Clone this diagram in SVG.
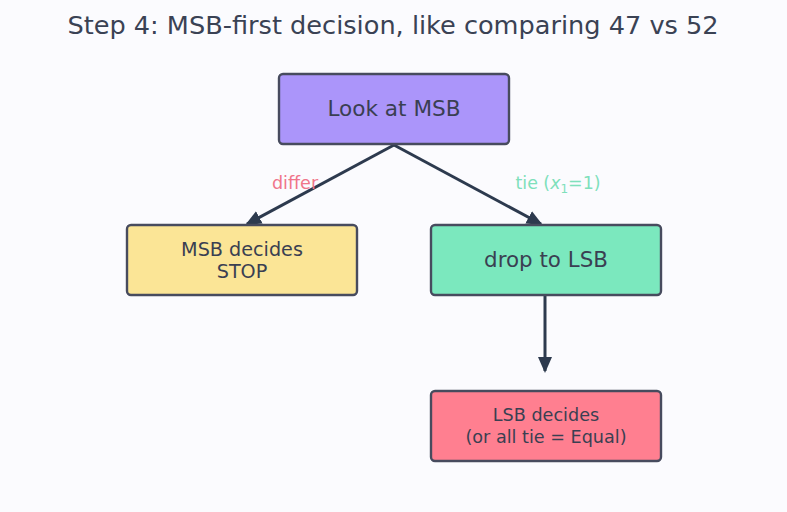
<svg xmlns="http://www.w3.org/2000/svg" width="787" height="512" viewBox="0 0 787 512">
<style>
text{font-family:"DejaVu Sans",sans-serif;text-anchor:middle;fill:#3a3f52}
.box{stroke:#474b5e;stroke-width:2.4}
.edge{stroke:#2d3a4e;stroke-width:3;fill:none}
</style>
<defs>
<marker id="ah2" viewBox="0 0 16 14" refX="14" refY="7" markerWidth="16" markerHeight="14" orient="auto" markerUnits="userSpaceOnUse">
<path d="M0,0 L16,7 L0,14 z" fill="#2d3a4e"/>
</marker>
</defs>
<rect width="787" height="512" fill="#fbfbfe"/>
<text x="393" y="34" font-size="25.6" style="fill:#3a4254">Step 4: MSB-first decision, like comparing 47 vs 52</text>
<g id="edges">
<line class="edge" x1="394" y1="145" x2="247" y2="224" marker-end="url(#ah2)"/>
<line class="edge" x1="394" y1="145" x2="541" y2="224" marker-end="url(#ah2)"/>
<line class="edge" x1="545" y1="296" x2="545" y2="371" marker-end="url(#ah2)"/>
<text x="295" y="189" font-size="17.6" style="fill:#f0758a">differ</text>
<text x="558" y="189" font-size="17.4" style="fill:#7ee0bb">tie (<tspan font-style="italic">x</tspan><tspan font-size="12" dy="4">1</tspan><tspan dy="-4">=1)</tspan></text>
</g>
<g id="msb">
<rect class="box" x="279" y="74" width="230" height="70" rx="4" fill="#ab95fa"/>
<text x="394" y="116" font-size="21.6">Look at MSB</text>
</g>
<g id="stop">
<rect class="box" x="127" y="225" width="230" height="70" rx="4" fill="#fbe596"/>
<text x="242" y="255.5" font-size="19.2">MSB decides</text>
<text x="242" y="278" font-size="19.2">STOP</text>
</g>
<g id="lsb">
<rect class="box" x="431" y="225" width="230" height="70" rx="4" fill="#7be8be"/>
<text x="546" y="267" font-size="21.4">drop to LSB</text>
</g>
<g id="final">
<rect class="box" x="431" y="391" width="230" height="70" rx="4" fill="#ff7f90"/>
<text x="546" y="421" font-size="17.6">LSB decides</text>
<text x="546" y="443" font-size="17.6">(or all tie = Equal)</text>
</g>
</svg>
